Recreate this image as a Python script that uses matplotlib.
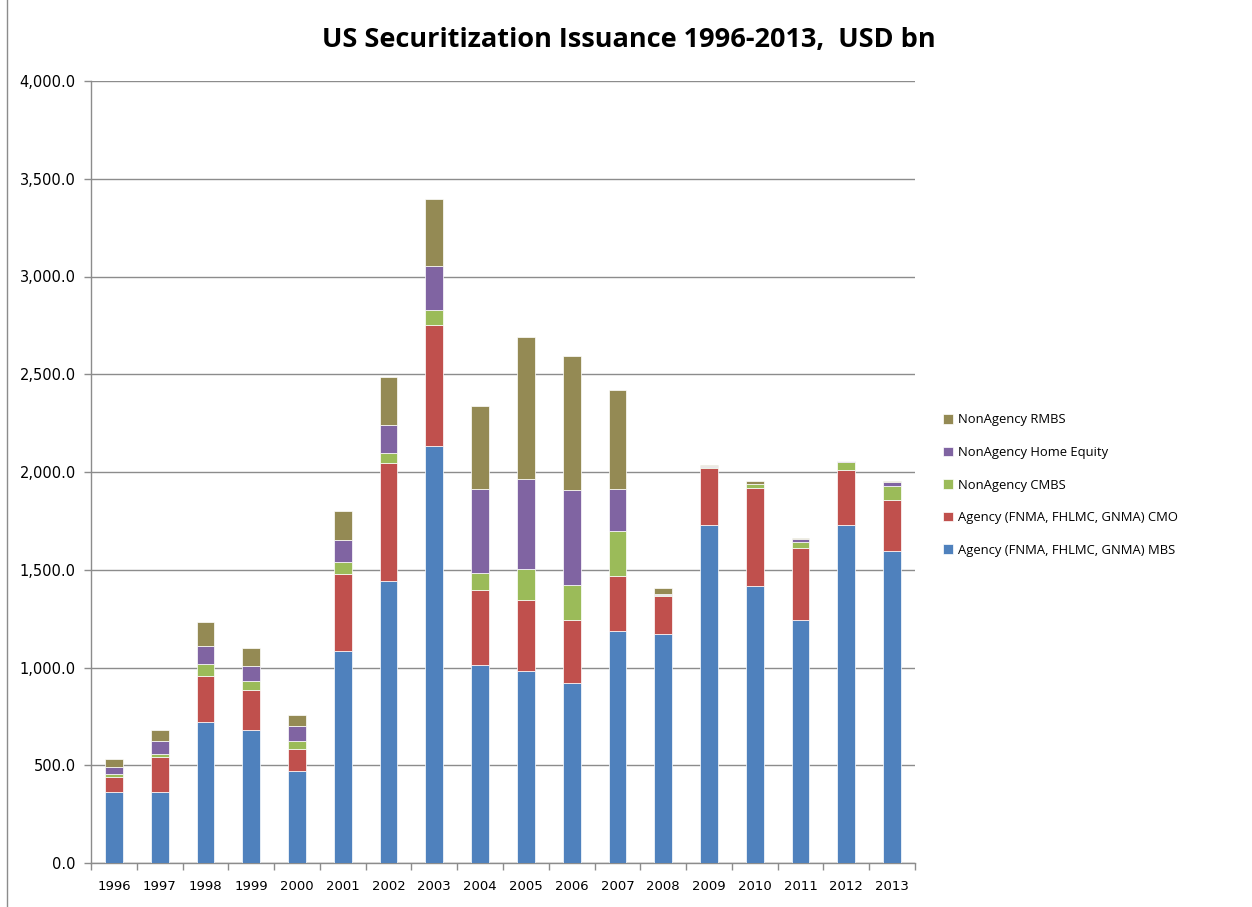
import matplotlib
matplotlib.use("Agg")
import matplotlib.pyplot as plt
import numpy as np
from matplotlib.ticker import FuncFormatter, MultipleLocator, FixedLocator

years = ["1996", "1997", "1998", "1999", "2000", "2001", "2002", "2003", "2004",
         "2005", "2006", "2007", "2008", "2009", "2010", "2011", "2012", "2013"]
agency_mbs = [365, 365, 723, 682, 469, 1085, 1443, 2132, 1015, 983, 919, 1185, 1170, 1730, 1415, 1241, 1730, 1595]
agency_cmo = [76, 176, 232, 203, 113, 392, 602, 620, 380, 362, 323, 281, 197, 290, 503, 370, 280, 260]
nonagency_cmbs = [16, 15, 61, 48, 42, 64, 50, 75, 89, 160, 181, 232, 2, 8, 19, 33, 43, 75]
nonagency_he = [36, 68, 92, 76, 78, 112, 146, 226, 427, 458, 483, 215, 5, 2, 3, 11, 2, 19]
nonagency_rmbs = [39, 56, 126, 92, 55, 146, 244, 342, 428, 725, 688, 507, 32, 7, 14, 5, 3, 7]

series = [
    ("Agency (FNMA, FHLMC, GNMA) MBS", agency_mbs, "#4F81BD"),
    ("Agency (FNMA, FHLMC, GNMA) CMO", agency_cmo, "#C0504D"),
    ("NonAgency CMBS", nonagency_cmbs, "#9BBB59"),
    ("NonAgency Home Equity", nonagency_he, "#8064A2"),
    ("NonAgency RMBS", nonagency_rmbs, "#948A54"),
]

W, H = 1252, 907
fig = plt.figure(figsize=(W / 100, H / 100), dpi=100)
ax = fig.add_axes([91 / W, 1 - 863 / H, (915 - 91) / W, (863 - 81) / H])

x = np.arange(len(years))
bottom = np.zeros(len(years))
handles = []
for name, vals, col in series:
    v = np.array(vals, dtype=float)
    b = ax.bar(x, v, width=0.39, bottom=bottom, color=col, edgecolor="white",
               linewidth=0.5, label=name, zorder=3)
    handles.append(b)
    bottom += v

ax.set_xlim(-0.5, len(years) - 0.5)
ax.set_ylim(0, 4000)
ax.yaxis.set_major_locator(MultipleLocator(500))
ax.yaxis.set_major_formatter(FuncFormatter(lambda v, p: f"{v:,.1f}"))
ax.grid(axis="y", color="#8C8C8C", linewidth=1.0, zorder=0)

ax.set_xticks(x)
ax.set_xticklabels(years)
ax.xaxis.set_minor_locator(FixedLocator(np.arange(-0.5, len(years), 1.0)))
ax.tick_params(axis="x", which="major", length=0, labelsize=9.5, pad=12, colors="black")
ax.tick_params(axis="x", which="minor", length=5, color="#8C8C8C", width=1)
ax.tick_params(axis="y", which="major", length=5, color="#8C8C8C", width=1,
               labelsize=10.5, pad=6)

for s in ["top", "right"]:
    ax.spines[s].set_visible(False)
for s in ["left", "bottom"]:
    ax.spines[s].set_color("#8C8C8C")
    ax.spines[s].set_linewidth(1)

fig.text(629 / W, 1 - 40 / H, "US Securitization Issuance 1996-2013,  USD bn",
         ha="center", va="center", fontsize=19.5, fontweight="bold",
         family="Open Sans")

leg = fig.legend(handles[::-1], [s[0] for s in series][::-1],
                 loc="center left", bbox_to_anchor=(931 / W, 1 - 485 / H),
                 frameon=False, labelspacing=1.5,
                 handlelength=0.75, handleheight=0.75, handletextpad=0.4,
                 prop={"family": "Open Sans", "size": 9.4})

# left border line of the chart frame
fig.add_artist(plt.Line2D([7 / W, 7 / W], [0, 1], color="#8C8C8C", linewidth=1,
                          transform=fig.transFigure))

fig.savefig("out.png", dpi=100, facecolor="white")
